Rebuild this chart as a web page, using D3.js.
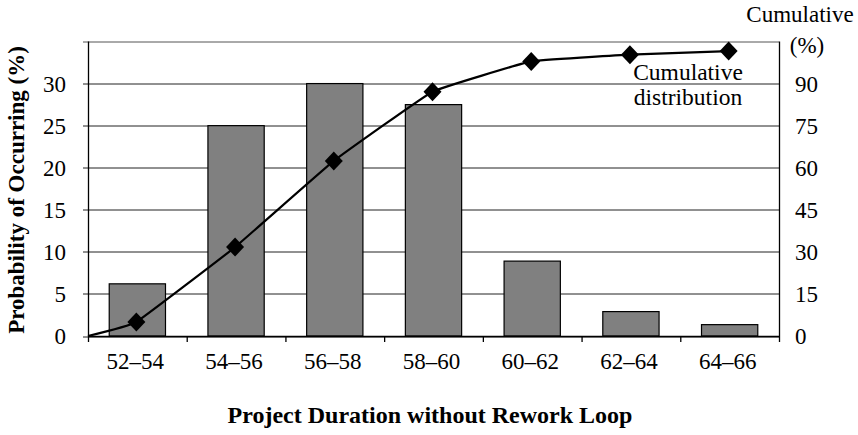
<!DOCTYPE html>
<html>
<head>
<meta charset="utf-8">
<script src="https://cdn.jsdelivr.net/npm/d3@7"></script>
<style>
  body { margin: 0; background: #fff; }
  text { font-family: "Liberation Serif", "DejaVu Serif", serif; fill: #000; }
</style>
</head>
<body>
<div id="chart"></div>
<script>
// data
const categories = ["52–54", "54–56", "56–58", "58–60", "60–62", "62–64", "64–66"];
const probability = [6.2, 25, 30, 27.5, 8.9, 2.9, 1.35];
const cumulative = [5, 31.7, 62.4, 87.1, 97.9, 100.3, 101.6];
const leftTicks = [0, 5, 10, 15, 20, 25, 30];
const rightTicks = [0, 15, 30, 45, 60, 75, 90];

const W = 858, H = 435;
const margin = { top: 41.5, right: 79, bottom: 99, left: 88 };
const width = W - margin.left - margin.right,
      height = H - margin.top - margin.bottom;

const svg = d3.select("#chart").append("svg")
  .attr("width", W).attr("height", H);

const g = svg.append("g")
  .attr("transform", `translate(${margin.left},${margin.top})`);

const x = d3.scaleBand().domain(categories).range([0, width]).paddingInner(0.43).paddingOuter(0.215);
const xb = d3.scaleBand().domain(categories).range([0, width]); // full bands for ticks
const y = d3.scaleLinear().domain([0, 35]).range([height, 0]);
const y2 = d3.scaleLinear().domain([0, 105]).range([height, 0]);
const cx = c => xb(c) + xb.bandwidth() / 2 - 1;

// gridlines
g.selectAll("line.grid")
  .data(leftTicks.concat([35]))
  .enter().append("line")
  .attr("class", "grid")
  .attr("x1", -5).attr("x2", width)
  .attr("y1", d => Math.round(y(d)) + 0.5).attr("y2", d => Math.round(y(d)) + 0.5)
  .attr("stroke", d => d === 35 ? "#555" : "#222")
  .attr("stroke-width", 1);

// bars
g.selectAll("rect.bar")
  .data(probability)
  .enter().append("rect")
  .attr("class", "bar")
  .attr("x", (d, i) => x(categories[i]))
  .attr("y", d => y(d))
  .attr("width", x.bandwidth())
  .attr("height", d => height - y(d))
  .attr("fill", "#808080")
  .attr("stroke", "#000")
  .attr("stroke-width", 1.2);

// axes lines
g.append("line").attr("x1", 0.5).attr("x2", 0.5).attr("y1", 0).attr("y2", height + 6)
  .attr("stroke", "#000").attr("stroke-width", 1.3);
g.append("line").attr("x1", width + 0.5).attr("x2", width + 0.5).attr("y1", 0).attr("y2", height + 6)
  .attr("stroke", "#000").attr("stroke-width", 1.3);
g.append("line").attr("x1", 0).attr("x2", width).attr("y1", height + 0.5).attr("y2", height + 0.5)
  .attr("stroke", "#000").attr("stroke-width", 1.3);

// x tick marks between categories
g.selectAll("line.xtick")
  .data(categories.slice(1))
  .enter().append("line")
  .attr("x1", d => xb(d) + 0.5).attr("x2", d => xb(d) + 0.5)
  .attr("y1", height).attr("y2", height + 6)
  .attr("stroke", "#000").attr("stroke-width", 1.3);

// x labels
g.selectAll("text.xlab")
  .data(categories)
  .enter().append("text")
  .attr("x", d => cx(d) - 1)
  .attr("y", height + 33)
  .attr("text-anchor", "middle")
  .style("font-size", "23px")
  .text(d => d);

// left tick labels
g.selectAll("text.ylab")
  .data(leftTicks)
  .enter().append("text")
  .attr("x", -22)
  .attr("y", d => y(d))
  .attr("dy", "0.35em")
  .attr("text-anchor", "end")
  .style("font-size", "23px")
  .text(d => d);

// right tick labels
g.selectAll("text.y2lab")
  .data(rightTicks)
  .enter().append("text")
  .attr("x", width + 16)
  .attr("y", d => y2(d))
  .attr("dy", "0.35em")
  .attr("text-anchor", "start")
  .style("font-size", "23px")
  .text(d => d);

// cumulative line, starting at 0 on the left edge
const linePts = [[0, y2(0)]].concat(cumulative.map((d, i) => [cx(categories[i]), y2(d)]));
g.append("path")
  .attr("d", d3.line().curve(d3.curveCardinal.tension(0.75))(linePts))
  .attr("fill", "none")
  .attr("stroke", "#000")
  .attr("stroke-width", 2.2);

g.selectAll("path.marker")
  .data(cumulative)
  .enter().append("path")
  .attr("class", "marker")
  .attr("transform", (d, i) => `translate(${cx(categories[i])},${y2(d)})`)
  .attr("d", "M0,-9.5L9,0L0,9.5L-9,0Z")
  .attr("fill", "#000");

// annotation
const ann = g.append("text")
  .attr("x", 600)
  .attr("y", 38)
  .attr("text-anchor", "middle")
  .style("font-size", "23.5px");
ann.append("tspan").attr("x", 600).attr("dy", 0).text("Cumulative");
ann.append("tspan").attr("x", 600).attr("dy", 25).text("distribution");

// right axis title
svg.append("text").attr("x", 800).attr("y", 22).attr("text-anchor", "middle")
  .style("font-size", "23px").text("Cumulative");
svg.append("text").attr("x", 807).attr("y", 53).attr("text-anchor", "middle")
  .style("font-size", "23px").text("(%)");

// left axis title
svg.append("text")
  .attr("transform", `translate(24,190) rotate(-90)`)
  .attr("text-anchor", "middle")
  .style("font-size", "23px")
  .style("font-weight", "bold")
  .text("Probability of Occurring (%)");

// x axis title
svg.append("text")
  .attr("x", 430).attr("y", 423)
  .attr("text-anchor", "middle")
  .style("font-size", "24px")
  .style("font-weight", "bold")
  .text("Project Duration without Rework Loop");
</script>
</body>
</html>
